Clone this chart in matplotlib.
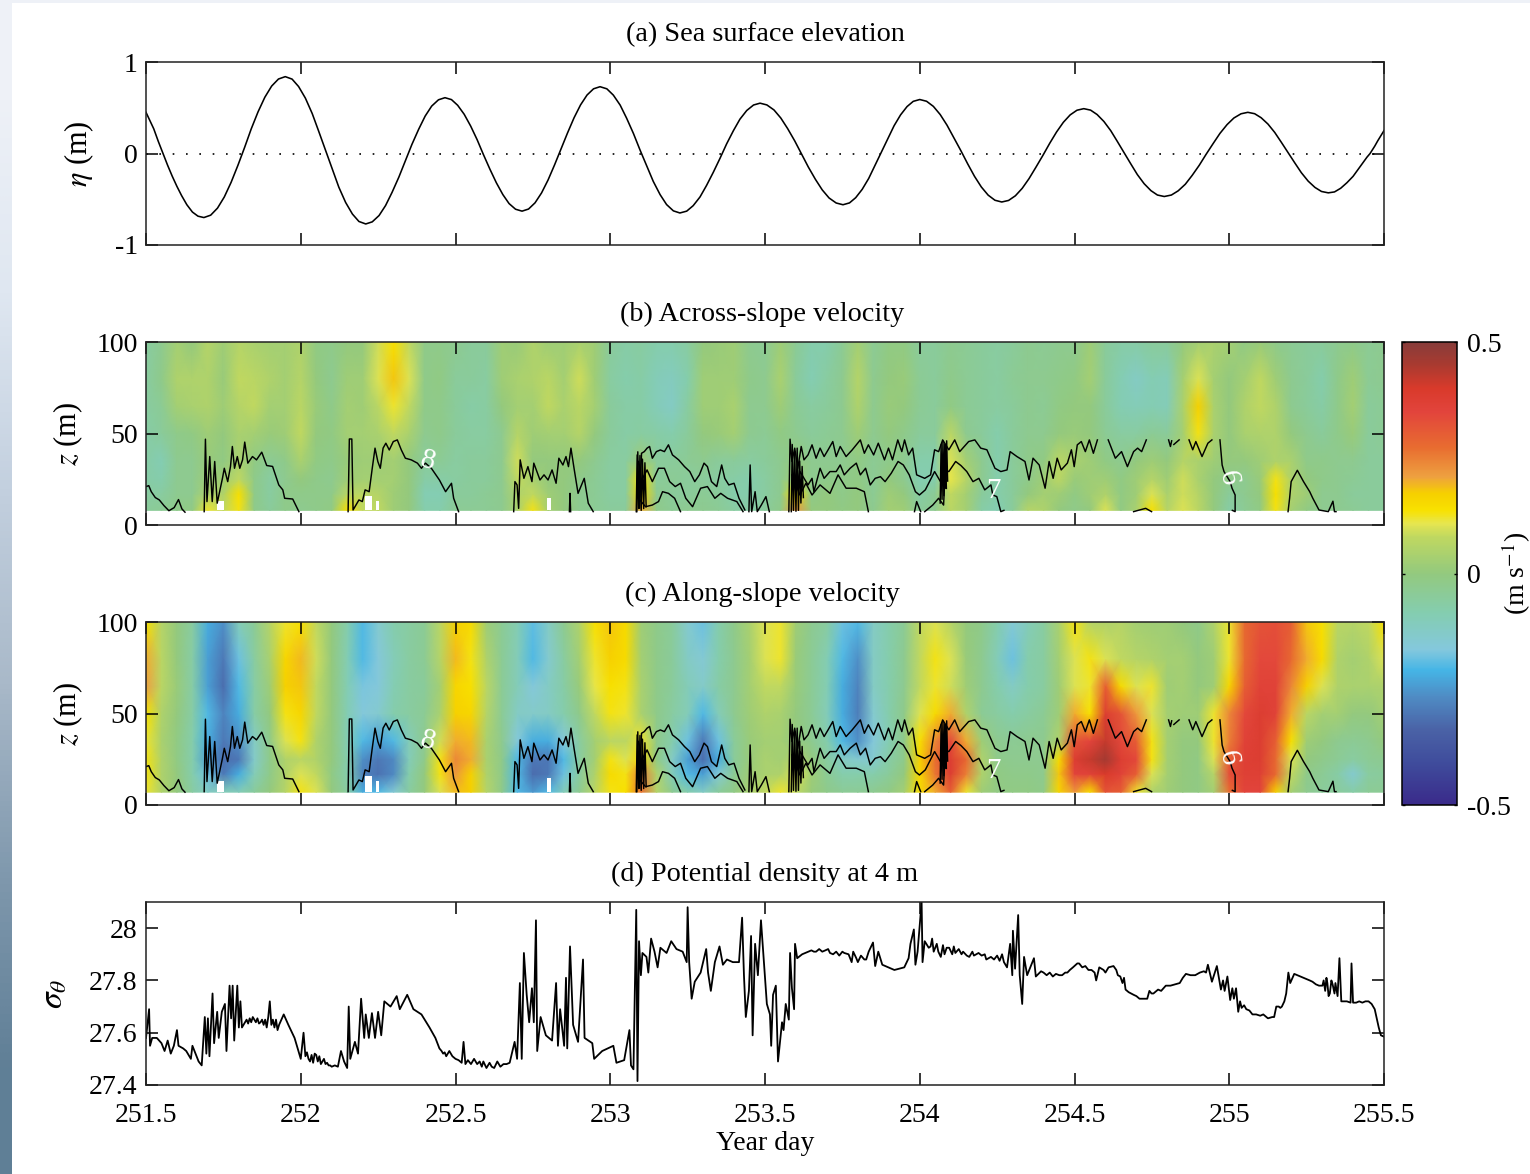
import numpy as np
import matplotlib
matplotlib.use("Agg")
import matplotlib.pyplot as plt
from matplotlib.colors import LinearSegmentedColormap, Normalize
from matplotlib.patches import Rectangle

plt.rcParams['font.family'] = ['Liberation Serif', 'DejaVu Serif']
plt.rcParams['mathtext.fontset'] = 'stix'

TITLES = ["(a) Sea surface elevation", "(b) Across-slope velocity",
          "(c) Along-slope velocity", "(d) Potential density at 4 m"]
XTICKS = [251.5, 252, 252.5, 253, 253.5, 254, 254.5, 255, 255.5]
XTICKLABELS = ["251.5", "252", "252.5", "253", "253.5", "254", "254.5", "255", "255.5"]

ETA_T = [251.5,251.5125,251.525,251.54,251.555,251.57,251.585,251.6,251.615,251.632,251.65,251.668,251.687,
 251.709,251.731,251.753,251.775,251.797,251.819,251.84,251.862,251.884,251.906,251.928,251.95,
 251.972,251.993,252.015,252.037,252.058,252.08,252.102,252.123,252.145,252.167,252.188,252.21,
 252.231,252.253,252.274,252.295,252.317,252.338,252.359,252.381,252.402,252.423,252.445,252.466,
 252.487,252.507,252.528,252.549,252.57,252.59,252.611,252.632,252.653,252.673,252.694,252.715,
 252.736,252.757,252.778,252.799,252.82,252.841,252.862,252.883,252.904,252.925,252.946,252.967,
 252.989,253.01,253.032,253.053,253.075,253.096,253.118,253.139,253.161,253.182,253.204,253.225,
 253.247,253.268,253.29,253.311,253.333,253.355,253.376,253.398,253.419,253.441,253.463,253.484,
 253.506,253.529,253.551,253.573,253.596,253.618,253.64,253.663,253.685,253.707,253.73,253.752,
 253.773,253.793,253.814,253.835,253.855,253.876,253.897,253.917,253.938,253.959,253.979,254.0,
 254.022,254.044,254.066,254.088,254.11,254.133,254.155,254.177,254.199,254.221,254.243,254.265,
 254.287,254.309,254.331,254.353,254.375,254.398,254.42,254.442,254.464,254.486,254.508,254.53,
 254.552,254.573,254.595,254.617,254.638,254.66,254.682,254.703,254.725,254.747,254.768,254.79,
 254.813,254.835,254.858,254.88,254.903,254.925,254.948,254.97,254.993,255.015,255.038,255.06,
 255.082,255.103,255.125,255.147,255.168,255.19,255.212,255.233,255.255,255.277,255.298,255.32,
 255.34,255.36,255.38,255.40,255.415,255.43,255.445,255.455,255.47,255.48,255.49,255.5]
ETA = [.45,.36,.27,.13,0,-.13,-.25,-.36,-.46,-.56,-.64,-.685,-.70,
 -.674,-.597,-.475,-.315,-.129,.07,.269,.455,.615,.737,.814,.84,
 .813,.732,.605,.437,.243,.035,-.173,-.368,-.535,-.662,-.743,-.77,
 -.747,-.678,-.569,-.425,-.258,-.08,.098,.265,.409,.518,.587,.61,
 .589,.527,.429,.30,.15,-.01,-.17,-.32,-.449,-.547,-.609,-.63,
 -.607,-.539,-.431,-.29,-.125,.05,.225,.39,.531,.639,.707,.73,
 .707,.638,.529,.385,.218,.04,-.138,-.305,-.449,-.558,-.627,-.65,
 -.63,-.57,-.475,-.35,-.205,-.05,.105,.25,.375,.47,.53,.55,
 .531,.476,.388,.273,.138,-.005,-.148,-.283,-.398,-.486,-.541,-.56,
 -.54,-.483,-.392,-.273,-.133,.015,.163,.303,.422,.513,.57,.59,
 .571,.515,.426,.31,.174,.03,-.114,-.25,-.366,-.455,-.511,-.53,
 -.513,-.462,-.381,-.275,-.152,-.02,.112,.235,.341,.422,.473,.49,
 .474,.426,.35,.25,.134,.01,-.114,-.23,-.33,-.406,-.454,-.47,
 -.454,-.408,-.336,-.24,-.129,-.01,.109,.22,.316,.388,.434,.45,
 .435,.391,.322,.23,.124,.01,-.104,-.21,-.302,-.371,-.415,-.43,
 -.42,-.38,-.32,-.25,-.18,-.11,-.04,0,.08,.14,.195,.25]

GRID_T = [251.5 + 0.05 * k for k in range(81)]
GRID_Z = [8, 17, 25, 35, 50, 65, 80, 100]

# Columns: one per GRID_T, values from z=100 down to z=8 (m/s)
ACROSS = [
 [-.06,-.06,-.06,-.07,-.07,-.07,-.06,-.05],[-.03,-.02,-.04,-.05,-.09,-.08,-.06,-.04],
 [.03,.05,.03,-.02,-.03,-.03,-.03,-.02],[.0,.05,.04,-.01,-.03,-.03,-.03,-.01],
 [.06,.05,.05,.02,.01,.02,.05,.12],[.02,.01,.02,.0,-.01,.02,.05,.08],
 [.06,.08,.06,.04,.04,.08,.14,.13],[.04,.07,.08,.03,-.01,-.02,-.02,-.02],
 [.03,.05,.03,.01,-.04,-.06,-.06,-.05],[.03,.03,.03,.02,-.02,-.03,-.02,-.02],
 [.05,.06,.07,.08,.04,.0,-.02,-.03],[-.01,.0,.01,.0,-.01,-.02,-.02,-.02],
 [-.02,-.03,-.02,-.01,-.02,-.03,-.02,-.01],[.0,.02,.03,.03,.01,.02,.07,.14],
 [.0,.02,.02,.03,.02,.03,.07,.08],[.09,.1,.07,.04,.02,.03,.06,.08],
 [.14,.18,.12,.08,.03,.03,.02,.02],[.08,.1,.08,.04,.0,.0,.0,.0],
 [-.02,-.02,-.02,-.03,-.05,-.07,-.09,-.08],[-.02,-.01,-.02,-.02,-.04,-.07,-.09,-.08],
 [-.03,-.05,-.05,-.05,-.06,-.06,-.05,-.04],[-.05,-.05,-.07,-.06,-.05,-.05,-.05,-.04],
 [-.05,-.06,-.06,-.06,-.05,-.05,-.04,-.04],[.02,.02,.0,-.03,-.03,-.03,-.03,-.03],
 [.01,.04,.03,.06,.09,.08,.05,.04],[.05,.05,.03,.02,.0,.04,.08,.13],
 [.02,.07,.08,.03,.0,.0,.02,.03],[.02,.03,.04,.03,.0,.0,.0,.0],
 [.04,.09,.07,.06,.0,-.02,-.03,-.03],[.02,.02,.03,.0,-.03,-.04,-.04,-.04],
 [-.05,-.06,-.05,-.05,-.06,-.06,-.06,-.05],[-.07,-.08,-.07,-.07,-.06,-.06,-.06,-.05],
 [-.06,-.07,-.07,-.06,.02,.14,.16,.2],[-.08,-.1,-.1,-.07,-.05,-.05,-.03,-.02],
 [-.08,-.11,-.12,-.08,-.05,-.04,-.05,-.04],[-.06,-.08,-.06,-.05,-.04,-.05,-.05,-.03],
 [.0,.02,.02,.0,-.03,-.05,-.04,-.03],[.01,.02,.02,.01,-.05,-.06,-.05,-.04],
 [.02,.02,.04,.03,-.05,-.07,-.08,-.06],[-.03,-.02,-.03,-.03,-.06,-.08,-.08,-.07],
 [-.04,-.03,-.03,-.04,-.05,-.06,-.06,-.05],[.02,.04,.02,-.01,-.03,-.03,-.03,-.02],
 [-.04,-.05,-.04,-.03,.0,.03,.15,.22],[-.08,-.09,-.06,-.05,-.03,-.03,-.02,.0],
 [-.08,-.06,-.05,-.04,-.03,-.02,.0,.0],[-.04,-.03,-.03,-.03,-.03,-.02,-.02,-.01],
 [.03,.06,.05,.02,-.01,-.01,.0,.0],[-.04,-.03,-.03,-.03,-.04,-.04,-.04,-.03],
 [-.01,.0,.01,.0,-.02,.0,.02,.03],[-.01,.01,.0,-.02,-.03,-.03,.0,.02],
 [-.05,-.04,-.04,-.05,-.08,-.09,-.07,-.05],[-.05,-.05,-.05,-.05,-.08,-.08,-.04,-.03],
 [-.03,-.02,-.01,.07,.1,.11,.08,.07],[-.04,-.04,-.04,-.03,.03,.06,.03,.03],
 [-.05,-.05,-.05,-.05,-.03,-.03,-.05,-.07],[-.06,-.06,-.06,-.08,-.08,-.08,-.08,-.09],
 [-.05,-.04,-.05,-.05,-.05,-.05,-.05,-.05],[-.03,-.03,-.03,-.03,-.02,-.02,.0,.06],
 [-.04,-.03,-.04,-.03,-.01,.02,.03,.05],[-.03,-.02,-.01,.0,.07,.07,.02,.0],
 [-.03,-.01,.0,.01,.04,.01,-.01,-.02],[.02,.03,.0,.0,.02,.02,.02,.0],
 [-.05,-.05,-.05,-.04,-.01,.02,.05,.1],[-.07,-.09,-.09,-.06,-.03,-.01,-.01,-.01],
 [-.07,-.12,-.1,-.06,.0,.02,.02,.04],[-.05,-.09,-.09,-.04,.02,.06,.1,.14],
 [-.05,-.1,-.1,-.05,.0,.02,.04,.06],[.0,.03,.04,.03,.06,.09,.09,.1],
 [.03,.1,.17,.13,.04,.04,.06,.07],[.04,.03,.04,.04,.02,.0,.0,.0],
 [.03,.0,.0,.0,.0,-.02,-.05,-.07],[-.01,.03,.05,.04,.0,-.03,-.03,-.04],
 [.01,.08,.08,.05,.02,.01,.0,-.01],[-.02,.02,.05,.05,.05,.13,.14,.13],
 [-.04,-.03,-.03,.0,.04,.05,.05,.03],[-.05,-.05,-.05,-.03,-.02,.0,.02,-.01],
 [-.05,-.08,-.07,-.05,-.02,-.02,-.03,-.03],[-.03,-.02,-.02,-.02,-.03,-.03,-.03,-.03],
 [-.02,.02,.03,.01,-.03,-.04,-.05,-.04],[-.04,-.04,-.05,-.05,-.05,-.05,-.05,-.05],
 [-.03,-.03,-.04,-.04,-.05,-.05,-.05,-.05],
]
ALONG = [
 [.14,.2,.21,.14,.12,.13,.13,.12],[.06,.07,.07,.05,.04,.05,.05,.05],
 [.0,.0,.01,.0,-.01,-.01,.0,.0],[-.06,-.07,-.07,-.07,-.08,-.08,-.08,-.06],
 [-.22,-.24,-.24,-.2,-.22,-.24,-.18,-.12],[-.26,-.3,-.32,-.28,-.3,-.32,-.3,-.1],
 [-.1,-.18,-.2,-.22,-.26,-.3,-.22,-.1],[-.04,-.06,-.07,-.07,-.12,-.13,-.1,-.05],
 [.06,.04,.02,.0,-.02,-.02,-.02,.0],[.12,.16,.17,.13,.1,.05,.05,.06],
 [.14,.19,.18,.16,.13,.07,.1,.13],[.08,.09,.08,.08,.05,.05,.08,.1],
 [.0,.0,.0,.0,.0,.0,-.01,.0],[-.08,-.09,-.09,-.09,-.09,-.08,-.08,-.06],
 [-.2,-.2,-.17,-.16,-.2,-.26,-.28,-.22],[-.14,-.16,-.16,-.14,-.24,-.3,-.31,-.2],
 [-.08,-.1,-.09,-.08,-.2,-.27,-.27,-.15],[-.06,-.06,-.06,-.06,-.1,-.1,-.08,-.06],
 [-.04,-.04,-.05,-.04,-.03,-.02,.0,.0],[.07,.06,.03,.04,.09,.13,.13,.1],
 [.17,.19,.16,.17,.2,.24,.22,.19],[.15,.13,.14,.16,.19,.2,.17,.17],
 [.02,.05,.07,.06,.04,.04,.05,.06],[-.04,-.04,-.04,-.04,-.03,-.02,-.02,-.02],
 [-.09,-.1,-.1,-.12,-.16,-.2,-.2,-.2],[-.19,-.2,-.16,-.13,-.22,-.3,-.32,-.25],
 [-.12,-.14,-.12,-.12,-.22,-.3,-.3,-.2],[-.03,-.06,-.07,-.08,-.16,-.2,-.18,-.1],
 [.05,.03,.01,-.02,-.06,-.06,-.06,-.03],[.14,.12,.11,.08,.03,.03,.05,.07],
 [.18,.17,.14,.13,.07,.13,.15,.13],[.15,.15,.13,.12,.07,.1,.13,.14],
 [.02,.03,.04,.04,.12,.16,.25,.27],[-.02,-.02,-.02,-.02,-.02,-.01,.05,.06],
 [-.05,-.05,-.05,-.06,-.08,-.12,-.1,-.03],[-.14,-.12,-.1,-.1,-.18,-.24,-.2,-.08],
 [-.18,-.15,-.13,-.2,-.3,-.32,-.24,-.12],[-.08,-.08,-.07,-.1,-.18,-.22,-.15,-.05],
 [-.02,-.03,-.03,-.03,-.05,-.05,-.04,-.01],[.04,.03,.03,.02,.01,.01,.02,.04],
 [.1,.1,.08,.05,.03,.04,.04,.08],[.12,.12,.08,.04,.03,.03,.05,.12],
 [.02,.01,.01,.0,.0,.06,.1,.08],[-.03,-.04,-.04,-.04,-.03,.0,.02,.01],
 [-.06,-.09,-.09,-.1,-.08,-.06,-.04,-.02],[-.18,-.2,-.22,-.22,-.2,-.12,-.08,-.04],
 [-.2,-.26,-.28,-.29,-.26,-.14,-.08,-.04],[-.12,-.12,-.12,-.14,-.16,-.14,-.08,-.03],
 [-.08,-.08,-.08,-.08,-.09,-.07,-.05,-.01],[-.04,-.03,-.03,-.02,-.02,-.02,.0,.03],
 [.08,.08,.08,.1,.14,.17,.16,.15],[.1,.13,.12,.15,.24,.27,.26,.2],
 [.06,.1,.09,.2,.34,.38,.38,.3],[.0,.01,.02,.05,.2,.28,.25,.12],
 [-.02,-.03,-.03,-.04,.02,.05,.05,.02],[-.08,-.1,-.08,-.06,-.03,-.02,-.01,-.01],
 [-.15,-.18,-.12,-.08,-.04,-.03,-.02,-.01],[-.1,-.08,-.08,-.06,-.03,-.03,-.02,-.01],
 [-.06,-.06,-.06,-.04,-.03,-.03,-.03,-.02],[.04,.03,.02,.02,.05,.15,.18,.16],
 [.13,.1,.1,.2,.32,.38,.35,.22],[.06,.13,.12,.14,.35,.42,.36,.14],
 [.05,.1,.3,.38,.42,.46,.4,.32],[.06,.08,.15,.32,.34,.38,.36,.3],
 [.03,.06,.1,.22,.3,.34,.3,.12],[.02,.05,.12,.1,.13,.13,.1,.05],
 [.02,.03,.02,.03,.03,.03,.03,.02],[.0,.03,.03,.02,.0,.0,.0,.0],
 [-.02,.0,.0,.02,.0,-.01,-.01,-.01],[.05,.02,.02,.12,.12,.1,.06,.03],
 [.12,.12,.16,.24,.25,.3,.33,.27],[.28,.28,.3,.34,.36,.37,.37,.35],
 [.32,.34,.36,.38,.38,.38,.37,.35],[.33,.34,.36,.36,.3,.28,.28,.17],
 [.3,.28,.24,.2,.14,.1,.08,.03],[.18,.2,.17,.07,.02,.0,-.02,-.03],
 [.14,.15,.1,.03,.0,-.02,-.04,-.05],[.07,.05,.05,.03,-.03,-.04,-.07,-.05],
 [.06,.03,.04,.0,-.04,-.06,-.14,-.07],[.08,.05,.04,.0,-.03,-.04,-.06,-.04],
 [.14,.1,.05,.03,.0,-.03,-.05,-.04],
]

# Isopycnal contour segments (year day, height above bed in m)
CONTOUR_T = [
 [251.50,251.509,251.517,251.53,251.543,251.558,251.574,251.591,251.605,251.616,251.626],
 [251.688,251.692,251.697,251.706,251.714,251.722,251.730,251.747,251.753,251.764,251.773,251.779,251.786,251.795,251.803,251.812,251.819,251.829,251.844,251.857,251.874,251.890,251.909,251.929,251.942,251.948,251.974,251.994],
 [252.153,252.157,252.165,252.169,252.188,252.199,252.208,252.221,252.231,252.240,252.249,252.257,252.266,252.275,252.286,252.299,252.312,252.325,252.338,252.357,252.377,252.390,252.403,252.422,252.448,252.468,252.487,252.494,252.51],
 [252.688,252.692,252.699,252.704,252.709,252.721,252.734,252.747,252.753,252.773,252.786,252.799,252.812,252.825,252.834,252.847,252.857,252.865,252.873,252.883,252.896,252.916,252.929,252.945],
 [252.868,252.87,252.872],
 [253.084,253.087,253.095,253.101,253.110,253.119,253.127,253.136,253.149,253.162,253.175,253.188,253.201,253.221,253.240,253.257,253.273,253.288,253.303,253.314,253.327,253.344,253.360,253.370,253.383,253.400,253.416,253.435],
 [253.091,253.099,253.119,253.136,253.156,253.175,253.192,253.210,253.227,253.244,253.266,253.292,253.314,253.338,253.357,253.379,253.409,253.429],
 [253.091,253.114,253.136,253.156,253.169,253.188,253.208,253.227],
 [253.086,253.089,253.092,253.096,253.10,253.104,253.108,253.112,253.116],
 [253.448,253.452,253.457,253.468,253.475,253.488,253.503,253.514],
 [253.577,253.581,253.587,253.596,253.606,253.617,253.626,253.639,253.652,253.665,253.678,253.691,253.704,253.719,253.730,253.743,253.762,253.782,253.808,253.821,253.834,253.851,253.866,253.886,253.899,253.912,253.929,253.942,253.951,253.964,253.977,253.990,254.016,254.035,254.048,254.061,254.074,254.094,254.113,254.129,254.158,254.178,254.197,254.217,254.243,254.262,254.282,254.292,254.314,254.340,254.353,254.366,254.386,254.405,254.418,254.431,254.444,254.457,254.477,254.490,254.499,254.509,254.522,254.535,254.548,254.561,254.574],
 [253.587,253.60,253.613,253.639,253.652,253.658,253.678,253.691,253.71,253.73,253.743,253.756,253.775,253.795,253.808,253.825,253.84,253.856,253.873,253.888,253.908,253.93,253.947,253.966,253.986,253.999,254.018,254.048,254.067,254.077,254.094,254.116,254.133,254.152,254.172,254.191,254.21,254.23,254.236,254.249,254.262,254.272],
 [253.593,253.613,253.632,253.652,253.678,253.71,253.736,253.762,253.795,253.821,253.834],
 [253.585,253.588,253.592,253.596,253.60,253.604,253.608,253.612,253.616,253.62,253.624],
 [253.983,253.99,254.003],
 [254.016,254.042,254.061,254.077,254.081,254.075,254.082,254.086],
 [254.066,254.069,254.072,254.075,254.078,254.081,254.084,254.087,254.09],
 [254.609,254.632,254.652,254.671,254.691,254.704,254.717,254.732],
 [254.804,254.81,254.814],[254.821,254.838],
 [254.870,254.882,254.892,254.912,254.931,254.944],
 [254.97,254.977,254.983,255.003,255.009,255.019,255.019,255.01],
 [254.691,254.71,254.73,254.749],
 [255.19,255.195,255.2,255.22,255.24,255.26,255.27,255.29,255.32,255.335,255.34,255.345],
]
CONTOUR_Z = [
 [21,21.5,18.2,15,13.7,10.6,7.8,9.5,13.9,8.8,7],
 [7.3,46.9,12.8,37.4,12.8,34.7,11.9,25.5,31,23.7,32,42.9,31,37.4,31,35.6,45.3,33.8,37.4,35.6,39.8,32.5,32,21.9,19.2,14.6,14.2,7.3],
 [7.3,47,47,8.2,13.7,12.8,19.2,18.2,31,42,34.7,31,42,44.7,41,45.6,46.5,41,36.5,35.6,33.8,31,33.8,31,24.6,18.2,22.8,14.6,7.3],
 [7.3,23.7,21.9,9.1,35.6,25.5,31.9,23.7,33.8,24.6,27.4,24.6,30.1,22.8,36.5,32.8,37.4,31.9,42,31,17.3,25.5,11.9,7.3],
 [7.3,17.3,7.3],
 [7.3,38.3,9.1,39.2,40.1,42,42.9,36.5,40.1,41,40.1,43.8,38.3,35.6,31.9,29.2,23.7,27.4,33.8,31.9,23.7,21,32.8,25.5,21.9,22.8,14.6,8.2],
 [34.7,23.7,30.1,23.7,31,31,23.7,21,22.8,14.6,10,20.1,21,14.6,17.3,14.6,12.8,7.3],
 [14.6,10,10.9,12.8,18.2,17.3,14.6,7.3],
 [7.3,40,9,38,8,36,9,34,10],
 [7.3,32.8,7.3,18.2,7.3,10.9,15.5,7.3],
 [7.3,46.9,34.7,42,31,42.9,35.6,38.3,43.8,36.5,42,37.4,41.1,45.6,37.4,42.9,37.4,41.1,46.5,39.2,43.8,38.3,44.7,35.6,42,35.6,46.5,40.1,46.5,38.3,42,27.4,25.5,27.4,41.1,40.1,46.5,41.1,46.5,40.1,45.6,46.5,42,41.1,31,29.2,30.1,40.1,37.4,34.7,24.6,36.5,32.8,20.1,34.7,25.5,36.5,30.1,33.8,41.1,31.9,43.8,45.6,40.1,46.5,39.2,46.5],
 [27.4,18.2,29.2,21.9,25.5,18.2,31,25.5,29.2,29.2,32.8,27.4,31,33.8,27.4,31,21.9,25.5,26.4,23.7,28.3,34.7,32.8,27.4,18.2,16.4,19.2,29.2,23.7,30.1,29.2,34.7,32.5,29.2,23.7,25.5,19.2,21.9,16.4,15.5,7.3,8],
 [25.5,16.4,22.8,16.4,21.9,17.3,27.4,20.1,20.1,18.2,7.3],
 [7.3,44,8,40,7.5,42,8,35,12,32,15],
 [7.3,12.8,7.3],
 [7.3,10.9,14.6,10.9,25.5,31,44,20],
 [12,44,14,46,16,44,20,46,24],
 [46.5,36.5,40.1,31.9,40.1,42,40.1,46.5],
 [46.5,42.9,46],[44,46.5],
 [46.5,41.1,45.6,37.4,44.7,46.5],
 [46.5,32.8,29.2,23.7,20.1,16.4,7.3,8],
 [7.3,8.2,9.1,7.3],
 [7.3,14.6,23.7,29.9,23.7,18.2,14.6,8.2,7.3,13,7.3,7.3],
]

MISSING_T0 = [251.73, 252.207, 252.243, 252.795]
MISSING_T1 = [251.752, 252.23, 252.253, 252.81]
MISSING_Z1 = [13, 16, 13, 15]

LABEL_T = [252.411, 254.237, 254.996]
LABEL_Z = [35, 18.6, 25.5]
LABEL_S = ["8", "7", "6"]
LABEL_R = [-15, 0, -80]

SIGMA_T = [251.5,251.51,251.513,251.52,251.535,251.55,251.56,251.57,251.58,251.59,251.60,251.605,251.62,251.63,251.645,251.65,251.67,251.68,251.69,251.695,251.70,251.705,251.715,251.72,251.73,251.735,251.745,251.755,251.76,251.77,251.775,251.78,251.785,251.795,251.80,251.805,251.81,251.82,251.85,251.87,251.90,251.905,251.93,251.945,251.96,251.98,252.0,252.009,252.015,252.03,252.05,252.07,252.09,252.13,252.14,252.15,252.155,252.16,252.175,252.185,252.195,252.205,252.21,252.22,252.23,252.24,252.25,252.26,252.27,252.29,252.31,252.32,252.344,252.364,252.39,252.416,252.435,252.448,252.48,252.52,252.526,252.532,252.578,252.617,252.675,252.691,252.699,252.708,252.714,252.721,252.73,252.738,252.747,252.753,252.76,252.764,252.775,252.792,252.812,252.825,252.831,252.838,252.851,252.857,252.861,252.87,252.88,252.896,252.912,252.917,252.942,252.948,252.974,253.01,253.02,253.045,253.062,253.067,253.075,253.084,253.088,253.093,253.099,253.104,253.117,253.123,253.132,253.143,253.153,253.162,253.182,253.197,253.214,253.234,253.247,253.25,253.255,253.263,253.273,253.292,253.31,253.316,253.325,253.338,253.353,253.364,253.377,253.396,253.416,253.426,253.432,253.438,253.448,253.455,253.46,253.468,253.477,253.487,253.506,253.516,253.52,253.526,253.535,253.542,253.555,253.56,253.567,253.577,253.581,253.587,253.594,253.597,253.604,253.62,253.658,253.704,253.71,253.756,253.795,253.821,253.835,253.849,253.856,253.866,253.879,253.918,253.95,253.964,253.97,253.981,253.986,253.993,254.006,254.009,254.016,254.029,254.055,254.068,254.087,254.126,254.152,254.19,254.23,254.266,254.282,254.292,254.299,254.301,254.308,254.318,254.323,254.331,254.337,254.347,254.369,254.375,254.392,254.451,254.477,254.509,254.555,254.57,254.594,254.626,254.648,254.665,254.691,254.723,254.749,254.795,254.84,254.86,254.918,254.931,254.944,254.96,254.973,254.994,255.003,255.022,255.029,255.048,255.087,255.139,255.152,255.178,255.184,255.191,255.197,255.23,255.269,255.301,255.314,255.321,255.334,255.347,255.356,255.362,255.392,255.395,255.40,255.45,255.47,255.483,255.49,255.5]
SIGMA = [27.58,27.69,27.55,27.58,27.58,27.56,27.53,27.57,27.52,27.55,27.61,27.55,27.54,27.53,27.5,27.55,27.49,27.475,27.66,27.52,27.655,27.51,27.75,27.56,27.68,27.58,27.68,27.71,27.53,27.78,27.655,27.78,27.57,27.78,27.62,27.72,27.62,27.64,27.65,27.64,27.72,27.63,27.63,27.67,27.63,27.58,27.50,27.6,27.51,27.49,27.515,27.49,27.475,27.53,27.49,27.465,27.7,27.5,27.565,27.52,27.73,27.58,27.67,27.58,27.675,27.58,27.68,27.59,27.72,27.7,27.74,27.69,27.745,27.69,27.67,27.62,27.58,27.54,27.53,27.485,27.565,27.48,27.49,27.47,27.485,27.565,27.5,27.79,27.5,27.905,27.745,27.64,27.77,27.64,28.03,27.53,27.66,27.59,27.57,27.79,27.55,27.69,27.55,27.81,27.54,27.93,27.63,27.565,27.88,27.58,27.56,27.5,27.53,27.55,27.485,27.495,27.61,27.475,27.46,28.07,27.415,27.95,27.82,27.905,27.89,27.83,27.96,27.91,27.85,27.925,27.905,27.95,27.92,27.91,27.87,28.08,27.87,27.73,27.795,27.83,27.92,27.83,27.76,27.87,27.93,27.86,27.88,27.87,27.87,28.04,27.82,27.66,27.76,27.97,27.59,27.94,27.82,28.03,27.71,27.67,27.55,27.745,27.78,27.49,27.64,27.61,27.71,27.65,27.905,27.77,27.69,27.94,27.885,27.9,27.91,27.92,27.905,27.905,27.885,27.88,27.91,27.945,27.855,27.91,27.86,27.84,27.85,27.885,27.94,27.995,27.86,27.91,28.10,27.87,27.95,27.925,27.94,27.89,27.925,27.92,27.895,27.905,27.89,27.9,27.85,27.94,27.82,27.99,27.845,28.05,27.82,27.71,27.89,27.82,27.885,27.815,27.835,27.82,27.83,27.865,27.84,27.8,27.84,27.855,27.815,27.765,27.745,27.73,27.75,27.78,27.79,27.825,27.835,27.86,27.795,27.855,27.765,27.815,27.725,27.77,27.68,27.705,27.67,27.66,27.7,27.72,27.75,27.83,27.79,27.815,27.795,27.78,27.81,27.74,27.785,27.76,27.885,27.72,27.715,27.865,27.715,27.72,27.69,27.62,27.59,27.585]
# finer wiggle read from the quiet stretches
SIGMA_T2 = [251.825,251.83,251.835,251.84,251.845,251.855,251.86,251.865,251.875,251.88,251.885,251.89,251.895,251.91,251.915,251.92,251.925,
 252.02,252.025,252.035,252.04,252.045,252.055,252.06,252.065,252.075,252.08,252.085,252.095,252.10,252.11,252.12,
 252.455,252.46,252.465,252.47,252.49,252.50,252.51,252.54,252.55,252.56,252.57,252.585,252.59,252.60,252.61,252.625,252.635,252.645,252.655,252.665,
 253.63,253.64,253.65,253.665,253.675,253.685,253.695,253.72,253.73,253.74,253.75,253.77,253.78,253.785,253.80,253.81,253.827,
 254.035,254.04,254.045,254.06,254.075,254.08,254.095,254.105,254.11,254.115,254.135,254.14,254.16,254.17,254.175,254.2,254.21,254.215,254.24,254.25,254.258,254.272,
 254.4,254.41,254.42,254.43,254.44,254.46,254.47,254.485,254.495,254.515,254.525,254.535,254.545,254.565,254.58,254.60,254.61,254.635,254.64,254.655,254.66,254.675,254.70,254.71,254.735,254.742,254.755,254.77,254.78,254.81,254.825,254.85,254.875,254.89,254.905,254.925,254.935,
 254.98,254.985,255.01,255.015,255.035,255.04,255.055,255.065,255.075,255.10,255.11,255.125,255.145,255.16,255.165,255.17,255.21,255.22,255.24,255.25,255.26,255.28,255.29,255.305,255.31,255.317,255.325,255.33,255.34,255.343,255.35,255.37,255.38,255.41,255.42,255.43,255.44,255.46]
SIGMA2 = [27.65,27.635,27.655,27.64,27.66,27.64,27.655,27.635,27.65,27.63,27.65,27.62,27.66,27.65,27.62,27.65,27.61,
 27.525,27.5,27.515,27.485,27.52,27.49,27.51,27.48,27.5,27.48,27.485,27.475,27.47,27.475,27.47,
 27.53,27.52,27.525,27.51,27.51,27.5,27.495,27.495,27.48,27.5,27.48,27.47,27.49,27.465,27.485,27.465,27.49,27.47,27.48,27.48,
 27.905,27.91,27.915,27.91,27.92,27.91,27.915,27.9,27.91,27.895,27.91,27.9,27.87,27.91,27.87,27.895,27.88,
 27.93,27.96,27.91,27.91,27.935,27.9,27.925,27.9,27.93,27.905,27.9,27.91,27.89,27.91,27.895,27.895,27.9,27.88,27.88,27.895,27.875,27.87,
 27.83,27.82,27.83,27.815,27.825,27.82,27.83,27.84,27.85,27.865,27.85,27.855,27.84,27.83,27.85,27.83,27.85,27.84,27.82,27.79,27.81,27.755,27.74,27.73,27.73,27.76,27.75,27.765,27.76,27.78,27.785,27.81,27.82,27.82,27.83,27.83,27.84,
 27.8,27.76,27.77,27.73,27.72,27.695,27.69,27.685,27.67,27.665,27.67,27.655,27.66,27.7,27.695,27.7,27.825,27.82,27.81,27.805,27.8,27.785,27.78,27.8,27.76,27.79,27.75,27.8,27.75,27.79,27.74,27.72,27.72,27.715,27.72,27.715,27.72,27.71]

CBAR_VALUES = [-0.5,-0.41,-0.338,-0.266,-0.209,-0.165,-0.086,0.0,0.08,0.108,0.137,0.173,0.21,0.273,0.35,0.40,0.453,0.5]
CBAR_COLORS = ["#3a2a8a","#3f4c9c","#4a62a6","#4f8cc4","#45b5e6","#84c8dd","#84cdb0","#93c97e","#c0d860","#e6e650","#f8e100","#f6d000","#eea040","#e86c30","#e2443c","#d93a2b","#a83a30","#883c3a"]
EDGE_Y = [0.0, 0.3, 0.55, 0.75, 0.9, 1.0]
EDGE_COLORS = ["#eef1f7", "#dfe7f1", "#c3d0df", "#a9b9c9", "#7f98ad", "#5f7f96"]

W, H = 1530, 1174
fig = plt.figure(figsize=(W / 100, H / 100), dpi=100, facecolor='white')

def box(l, t, r, b):
    return [l / W, 1 - b / H, (r - l) / W, (b - t) / H]

# pale page edge
bg = fig.add_axes(box(0, 0, 12, H), zorder=-5)
edge = LinearSegmentedColormap.from_list('edge', list(zip(EDGE_Y, EDGE_COLORS)))
bg.imshow(np.array(EDGE_Y).reshape(-1, 1), aspect='auto', cmap=edge, vmin=0, vmax=1,
          extent=[0, 1, 1, 0], interpolation='bilinear')
bg.axis('off')
fig.add_artist(Rectangle((0, 1 - 3 / H), 1, 3 / H, transform=fig.transFigure,
                         color='#eef1f7', lw=0, zorder=-6))

LW = 1.1
FS = 20
def style(ax, yt, yl):
    ax.set_xlim(251.5, 255.5)
    ax.set_xticks(XTICKS)
    ax.set_xticklabels([])
    ax.set_yticks(yt)
    ax.set_yticklabels(yl)
    ax.tick_params(direction='in', length=8.6, width=LW, top=True, right=True,
                   labelsize=FS, pad=6)
    for s in ax.spines.values():
        s.set_linewidth(LW)
        s.set_color('#222222')

cmap = LinearSegmentedColormap.from_list(
    'v', [((v + 0.5), c) for v, c in zip(CBAR_VALUES, CBAR_COLORS)], N=512)
norm = Normalize(-0.5, 0.5)

# (a)
ax_a = fig.add_axes(box(146, 62, 1384, 245))
ax_a.plot(ETA_T, ETA, color='k', lw=1.15)
ax_a.plot([251.5, 255.5], [0, 0], color='k', lw=1.2, ls=(0, (1, 7)))
ax_a.set_ylim(-1, 1)
style(ax_a, [-1, 0, 1], ["-1", "0", "1"])
ax_a.set_ylabel(r"$\eta$ (m)", fontsize=22)
ax_a.yaxis.set_label_coords(-0.0407, 0.5)

# (b), (c)
mesh = None
for box_args, field, bottom in (((146, 342, 1384, 525), ACROSS, 8),
                                ((146, 622, 1384, 805), ALONG, 7)):
    ax = fig.add_axes(box(*box_args))
    arr = np.array(field).T[::-1]
    zs = np.array(GRID_Z, dtype=float)
    zs[0] = bottom
    mesh = ax.pcolormesh(GRID_T, zs, arr, cmap=cmap, norm=norm, shading='gouraud',
                         rasterized=True)
    ax.bar(MISSING_T0, np.array(MISSING_Z1) - bottom, bottom=bottom,
           width=np.array(MISSING_T1) - np.array(MISSING_T0), align='edge',
           color='white', lw=0)
    for ct, cz in zip(CONTOUR_T, CONTOUR_Z):
        ax.plot(ct, cz, color='k', lw=1.05, solid_joinstyle='round')
    for t, z, s, r in zip(LABEL_T, LABEL_Z, LABEL_S, LABEL_R):
        ax.text(t, z, s, color='white', fontsize=21, rotation=r,
                ha='center', va='center')
    ax.set_ylim(0, 100)
    style(ax, [0, 50, 100], ["0", "50", "100"])
    ax.set_ylabel(r"$z$ (m)", fontsize=22)
    ax.yaxis.set_label_coords(-0.0493, 0.5)
    if field is ACROSS:
        ax_b = ax
    else:
        ax_c = ax

# (d)
ax_d = fig.add_axes(box(146, 902, 1384, 1085))
order = np.argsort(SIGMA_T + SIGMA_T2)
ax_d.plot(np.array(SIGMA_T + SIGMA_T2)[order], np.array(SIGMA + SIGMA2)[order], color='k', lw=1.3)
ax_d.set_ylim(27.4, 28.1)
style(ax_d, [27.4, 27.6, 27.8, 28.0], ["27.4", "27.6", "27.8", "28"])
ax_d.set_xticklabels(XTICKLABELS)
ax_d.tick_params(axis='x', pad=13)
ax_d.set_xlabel("Year day", fontsize=FS, labelpad=2)
ax_d.set_ylabel(r"$\sigma_{\theta}$", fontsize=24)
ax_d.yaxis.set_label_coords(-0.0614, 0.5)

for ax, title, tx in zip((ax_a, ax_b, ax_c, ax_d), TITLES, (0.5, 0.4975, 0.4975, 0.5)):
    ax.set_title(title, fontsize=20.3, pad=15, x=tx)

# colourbar
cax = fig.add_axes(box(1402, 342, 1457, 805))
cb = fig.colorbar(mesh, cax=cax)
cb.set_ticks([-0.5, 0, 0.5])
cb.set_ticklabels(["-0.5", "0", "0.5"])
cax.tick_params(direction='in', length=2.5, width=1, labelsize=FS, pad=7, left=True, right=True)
cb.outline.set_linewidth(LW)
cb.set_label(r"(m s$^{-1}$)", fontsize=FS, labelpad=-8)

fig.savefig("out.png", dpi=100, facecolor='white')
